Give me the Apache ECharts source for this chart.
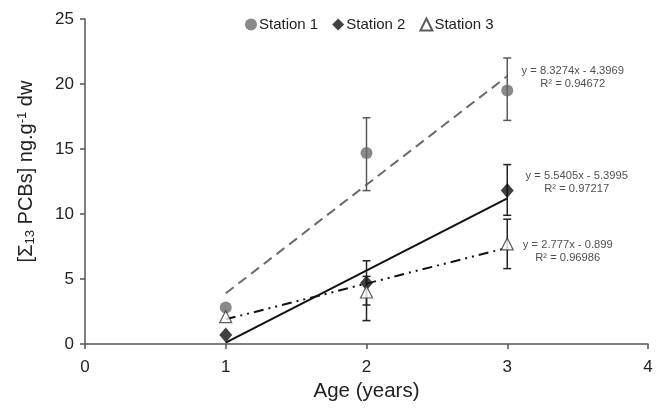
<!DOCTYPE html>
<html><head><meta charset="utf-8">
<script src="https://cdn.jsdelivr.net/npm/echarts@6/dist/echarts.min.js"></script>
<style>html,body{margin:0;padding:0;background:#fff}#c{width:661px;height:410px}</style>
</head><body><div id="c"></div>
<script>
const ages = [1, 2, 3];
const station1 = [2.8, 14.7, 19.5];
const station2 = [0.7, 4.7, 11.8];
const station3 = [2.1, 4.0, 7.7];
// error bars [x, low, high]
const err1 = [[2, 11.8, 17.4], [3, 17.2, 22.0]];
const err2 = [[2, 3.0, 6.4], [3, 9.9, 13.8]];
const err3 = [[2, 1.8, 5.2], [3, 5.8, 9.6]];
// trend line end values at x=1 and x=3
const trendX = [1, 3];
const trend1 = [3.9, 20.6];
const trend2 = [0.1, 11.2];
const trend3 = [1.9, 7.4];
const eq1 = ['y = 8.3274x - 4.3969', 'R² = 0.94672'];
const eq2 = ['y = 5.5405x - 5.3995', 'R² = 0.97217'];
const eq3 = ['y = 2.777x - 0.899', 'R² = 0.96986'];
const xTicks = [0, 1, 2, 3, 4];
const yTicks = [0, 5, 10, 15, 20, 25];

const FONT = '"Liberation Sans", Arial, sans-serif';
const chart = echarts.init(document.getElementById('c'));

function errSeries(data, color) {
  return {
    type: 'custom', silent: true, z: 3,
    data: data,
    renderItem: function (params, api) {
      const x = api.value(0);
      const lo = api.coord([x, api.value(1)]);
      const hi = api.coord([x, api.value(2)]);
      const w = 4;
      const st = { stroke: color, lineWidth: 1.5 };
      return { type: 'group', children: [
        { type: 'line', shape: { x1: lo[0], y1: lo[1], x2: hi[0], y2: hi[1] }, style: st },
        { type: 'line', shape: { x1: lo[0]-w, y1: lo[1], x2: lo[0]+w, y2: lo[1] }, style: st },
        { type: 'line', shape: { x1: hi[0]-w, y1: hi[1], x2: hi[0]+w, y2: hi[1] }, style: st }
      ]};
    }
  };
}
function trendSeries(vals, color, type, width) {
  return {
    type: 'line', silent: true, z: 2, showSymbol: false, symbol: 'none',
    data: trendX.map((x, i) => [x, vals[i]]),
    lineStyle: { color: color, type: type, width: width }
  };
}
function eqSeries(vals, eq, off) {
  return {
    type: 'scatter', silent: true, z: 5, symbolSize: 1,
    itemStyle: { color: 'rgba(0,0,0,0)' },
    data: [[trendX[1], vals[1]]],
    label: {
      show: true, position: off, align: 'center', verticalAlign: 'middle',
      formatter: eq[0] + '\n' + eq[1],
      fontFamily: FONT, fontSize: 11.2, lineHeight: 13, color: '#222'
    }
  };
}

chart.setOption({
  animation: false,
  textStyle: { fontFamily: FONT },
  grid: { left: 85, right: 13, top: 19, bottom: 66 },
  legend: {
    top: 12, left: 240, itemGap: 14, itemWidth: 12, itemHeight: 12,
    textStyle: { fontFamily: FONT, fontSize: 15, color: '#222', padding: [0, 0, 0, -3] },
    data: ['Station 1', 'Station 2', 'Station 3']
  },
  xAxis: {
    type: 'value', min: xTicks[0], max: xTicks[xTicks.length-1], interval: 1,
    name: 'Age (years)', nameLocation: 'middle', nameGap: 36,
    nameTextStyle: { fontFamily: FONT, fontSize: 20.5, color: '#222' },
    axisLine: { lineStyle: { color: '#555', width: 1.5 } },
    axisTick: { show: true, length: 5, lineStyle: { color: '#555', width: 1.5 } },
    axisLabel: { fontFamily: FONT, fontSize: 17, color: '#222', margin: 15 },
    splitLine: { show: false }
  },
  yAxis: {
    type: 'value', min: yTicks[0], max: yTicks[yTicks.length-1], interval: 5,
    name: '[Σ{sub|13} PCBs] ng.g{sup|-1} dw', nameLocation: 'middle', nameGap: 48, nameRotate: 90,
    nameTextStyle: { fontFamily: FONT, fontSize: 20, color: '#222', padding: [0, 0, 0, 20],
      rich: { sub: { fontSize: 13, verticalAlign: 'bottom', padding: [8, 0, 0, 0], fontFamily: FONT, color: '#222' },
              sup: { fontSize: 13, verticalAlign: 'top', padding: [0, 0, 8, 0], fontFamily: FONT, color: '#222' } } },
    axisLine: { show: true, lineStyle: { color: '#555', width: 1.5 } },
    axisTick: { show: true, length: 5, lineStyle: { color: '#555', width: 1.5 } },
    axisLabel: { fontFamily: FONT, fontSize: 17, color: '#222', margin: 11 },
    splitLine: { show: false }
  },
  series: [
    trendSeries(trend1, '#6a6a6a', [10, 6], 2),
    trendSeries(trend2, '#111', 'solid', 2),
    trendSeries(trend3, '#111', [10, 5, 2, 5, 2, 5], 2),
    errSeries(err1, '#5a5a5a'),
    errSeries(err2, '#222'),
    errSeries(err3, '#222'),
    { name: 'Station 1', type: 'scatter', z: 4, symbol: 'circle', symbolSize: 12,
      itemStyle: { color: '#6b6b6b' }, data: ages.map((x, i) => [x, station1[i]]) },
    { name: 'Station 2', type: 'scatter', z: 4, symbol: 'diamond', symbolSize: [13, 15],
      itemStyle: { color: '#111' }, data: ages.map((x, i) => [x, station2[i]]) },
    { name: 'Station 3', type: 'scatter', z: 4, symbol: 'triangle', symbolSize: [12, 12],
      itemStyle: { color: '#fff', borderColor: '#333', borderWidth: 1.2 }, data: ages.map((x, i) => [x, station3[i]]) },
    eqSeries(trend1, eq1, [66, 2]),
    eqSeries(trend2, eq2, [70, -15]),
    eqSeries(trend3, eq3, [61, 4])
  ]
});
</script></body></html>
